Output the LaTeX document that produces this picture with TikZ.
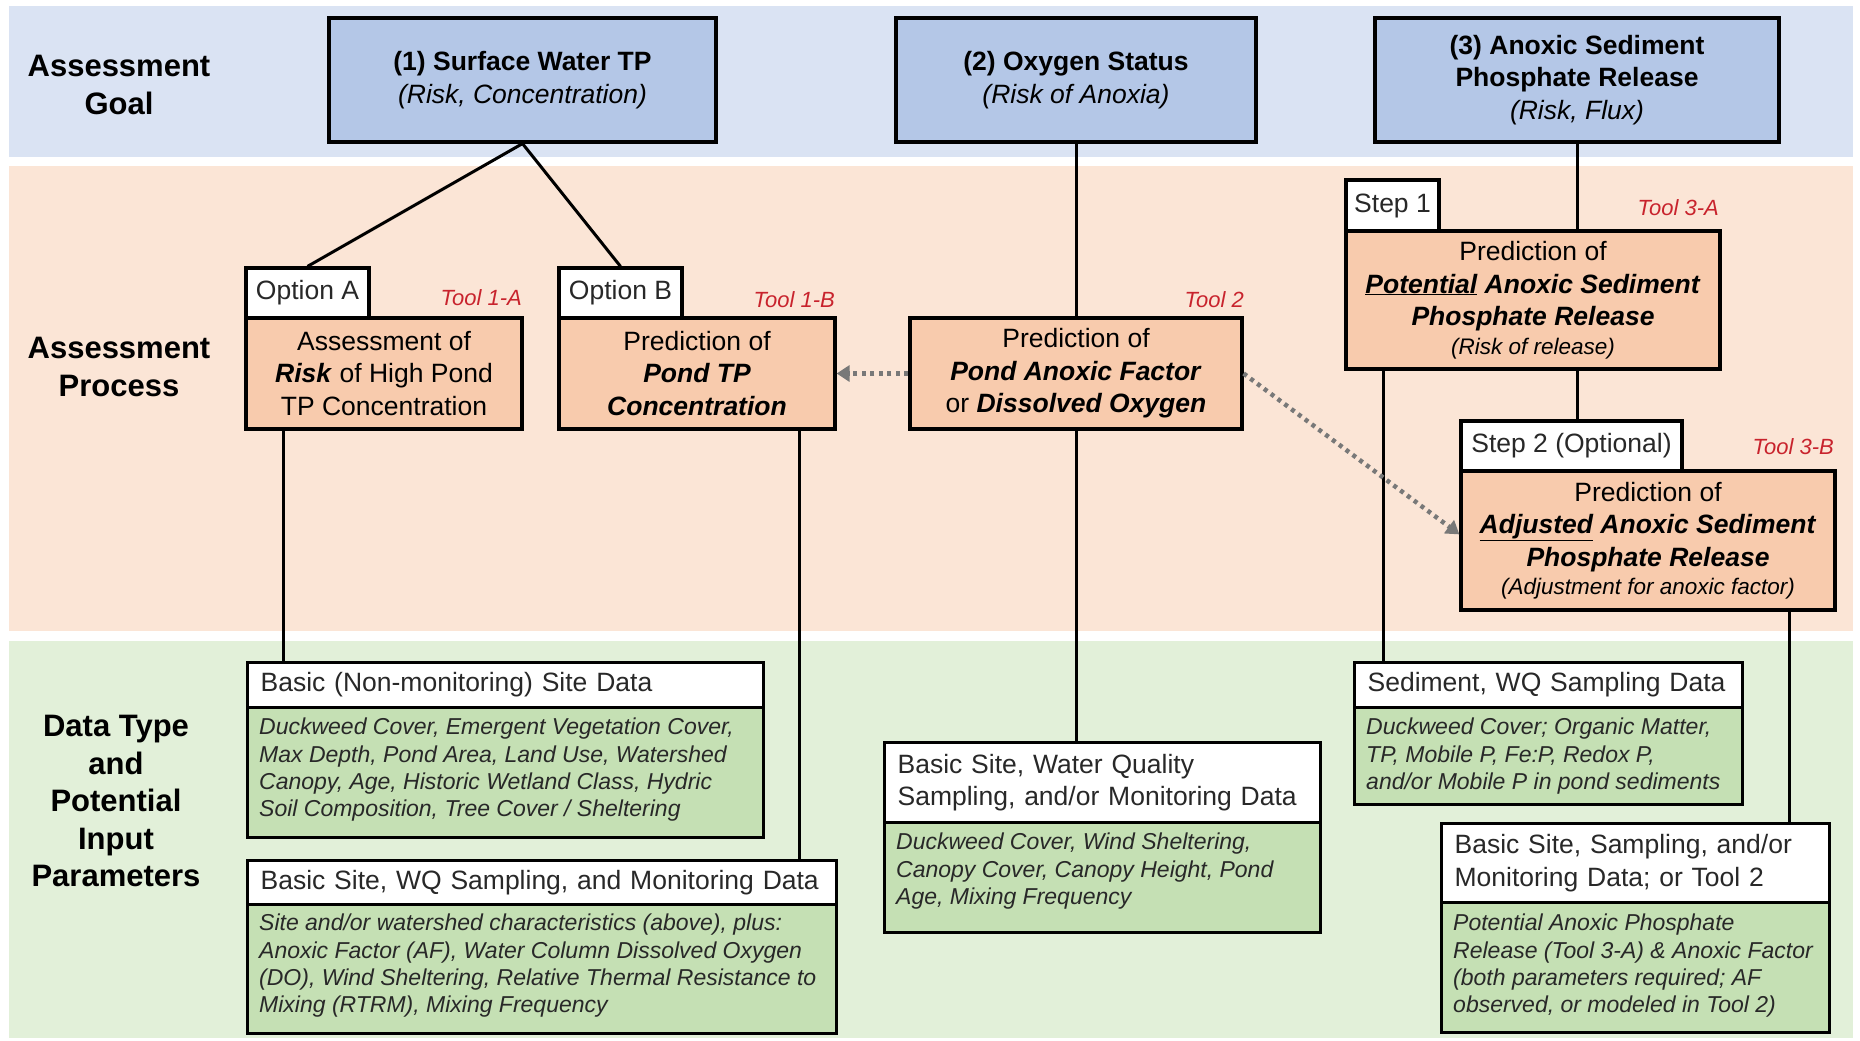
\documentclass[tikz,border=0pt]{standalone}
\usepackage{fontspec}
\setmainfont{Liberation Sans}
\usetikzlibrary{arrows.meta,calc}
\definecolor{bandblue}{RGB}{218,227,243}
\definecolor{bandorange}{RGB}{251,229,214}
\definecolor{bandgreen}{RGB}{226,240,217}
\definecolor{goalblue}{RGB}{180,199,231}
\definecolor{procor}{RGB}{248,203,173}
\definecolor{bodygreen}{RGB}{197,224,180}
\definecolor{toolred}{RGB}{200,35,45}
\definecolor{arrowgray}{RGB}{120,120,120}
\definecolor{txtgray}{RGB}{40,40,40}
\newcommand\fsmain{\fontsize{26.5}{32.5}\selectfont}
\newcommand\fsbody{\fontsize{23}{27.3}\selectfont}
\newcommand\fstool{\fontsize{22}{26}\selectfont}
\newcommand\fsside{\fontsize{31}{37.5}\selectfont}
\newcommand\fssmall{\fontsize{22.5}{27}\selectfont}
\begin{document}
\begin{tikzpicture}[x=1pt,y=-1pt,
  goal/.style={draw, line width=3.2pt, fill=goalblue, align=center, font=\fsmain, inner sep=0pt},
  proc/.style={draw, line width=3.2pt, fill=procor, align=center, font=\fsmain, inner sep=0pt},
  tabbox/.style={draw, line width=3.2pt, fill=white, font=\fsmain, inner sep=0pt, text=txtgray},
  hdr/.style={draw, line width=3.2pt, fill=white, font=\fsmain, align=left, anchor=north west, inner xsep=13pt, inner ysep=0pt, text=txtgray},
  bodybox/.style={draw, line width=3.2pt, fill=bodygreen, anchor=north west, inner sep=0pt},
  bodytxt/.style={font=\fsbody\itshape, align=left, anchor=north west, inner sep=0pt, text=txtgray},
  tool/.style={font=\fstool\itshape, text=toolred, anchor=east, inner sep=0pt},
  side/.style={font=\fsside\bfseries, align=center, inner sep=0pt},
  conn/.style={line width=3pt},
  dotarrow/.style={draw=arrowgray, line width=4.5pt, dash pattern=on 4pt off 4.5pt, -{Triangle[length=13pt,width=16pt]}}
]
\useasboundingbox (0,0) rectangle (1860,1041);
\fill[white] (0,0) rectangle (1860,1041);
% bands
\fill[bandblue] (9,6) rectangle (1853,157);
\fill[bandorange] (9,166) rectangle (1853,631);
\fill[bandgreen] (9,641) rectangle (1853,1038);

% side labels
\node[side] (lgoal) at (119,85) {Assessment\\Goal};
\node[side] (lproc) at (119,367) {Assessment\\Process};
\node[side] (ldata) at (116,801) {Data Type\\and\\Potential\\Input\\Parameters};

% goal boxes
\node[goal, minimum width=387pt, minimum height=124pt] (g1) at (522.5,80) {\textbf{(1) Surface Water TP}\\\textit{(Risk, Concentration)}};
\node[goal, minimum width=360pt, minimum height=124pt] (g2) at (1076,80) {\textbf{(2) Oxygen Status}\\\textit{(Risk of Anoxia)}};
\node[goal, minimum width=404pt, minimum height=124pt] (g3) at (1577,80) {\textbf{(3) Anoxic Sediment}\\\textbf{Phosphate Release}\\\textit{(Risk, Flux)}};

% process boxes
\node[proc, minimum width=276pt, minimum height=111pt] (bA) at (384,373.5) {Assessment of\\\textbf{\textit{Risk}} of High Pond\\TP Concentration};
\node[tabbox, minimum width=123pt, minimum height=50pt] (tA) at (307.5,293) {Option A};
\node[tool] (toolA) at (522,298) {Tool 1-A};

\node[proc, minimum width=276pt, minimum height=111pt] (bB) at (697,373.5) {Prediction of\\\textbf{\textit{Pond TP}}\\\textbf{\textit{Concentration}}};
\node[tabbox, minimum width=123pt, minimum height=50pt] (tB) at (620.5,293) {Option B};
\node[tool] (toolB) at (835,300) {Tool 1-B};

\node[proc, minimum width=332pt, minimum height=111pt] (t2) at (1076,373.5) {Prediction of\\\textbf{\textit{Pond Anoxic Factor}}\\or \textbf{\textit{Dissolved Oxygen}}};
\node[tool] (toolC) at (1244,300) {Tool 2};

\node[proc, minimum width=374pt, minimum height=138pt] (b3a) at (1533,300) {Prediction of\\\textbf{\textit{\underline{Potential} Anoxic Sediment}}\\\textbf{\textit{Phosphate Release}}\\[-4pt]{\fssmall\textit{(Risk of release)}}};
\node[tabbox, minimum width=93pt, minimum height=51pt] (s1) at (1392.5,205.5) {Step 1};
\node[tool] (toolD) at (1719,208) {Tool 3-A};

\node[proc, minimum width=374pt, minimum height=139pt] (b3b) at (1648,540.5) {Prediction of\\\textbf{\textit{\underline{Adjusted} Anoxic Sediment}}\\\textbf{\textit{Phosphate Release}}\\[-4pt]{\fssmall\textit{(Adjustment for anoxic factor)}}};
\node[tabbox, minimum width=221pt, minimum height=50pt] (s2) at (1571.5,446) {Step 2 (Optional)};
\node[tool] (toolE) at (1834,447) {Tool 3-B};

% data boxes
\node[bodybox, minimum width=516pt, minimum height=130pt] (d1b) at (246,706) {};
\node[hdr, text width=490pt, minimum height=45pt] (d1h) at (246,661) {Basic (Non-monitoring) Site Data};
\node[bodytxt] (d1t) at ($(d1b.north west)+(13,12)$) {Duckweed Cover, Emergent Vegetation Cover,\\Max Depth, Pond Area, Land Use, Watershed\\Canopy, Age, Historic Wetland Class, Hydric\\Soil Composition, Tree Cover / Sheltering};

\node[bodybox, minimum width=589pt, minimum height=129pt] (d2b) at (246,903) {};
\node[hdr, text width=563pt, minimum height=44pt] (d2h) at (246,859) {Basic Site, WQ Sampling, and Monitoring Data};
\node[bodytxt] (d2t) at ($(d2b.north west)+(13,11)$) {Site and/or watershed characteristics (above), plus:\\Anoxic Factor (AF), Water Column Dissolved Oxygen\\(DO), Wind Sheltering, Relative Thermal Resistance to\\Mixing (RTRM), Mixing Frequency};

\node[bodybox, minimum width=436pt, minimum height=110pt] (d3b) at (883,821) {};
\node[hdr, text width=410pt, minimum height=80pt] (d3h) at (883,741) {Basic Site, Water Quality\\Sampling, and/or Monitoring Data};
\node[bodytxt] (d3t) at ($(d3b.north west)+(13,12)$) {Duckweed Cover, Wind Sheltering,\\Canopy Cover, Canopy Height, Pond\\Age, Mixing Frequency};

\node[bodybox, minimum width=388pt, minimum height=97pt] (d4b) at (1353,706) {};
\node[hdr, text width=362pt, minimum height=45pt] (d4h) at (1353,661) {Sediment, WQ Sampling Data};
\node[bodytxt] (d4t) at ($(d4b.north west)+(13,12)$) {Duckweed Cover; Organic Matter,\\TP, Mobile P, Fe:P, Redox P,\\and/or Mobile P in pond sediments};

\node[bodybox, minimum width=388pt, minimum height=130pt] (d5b) at (1440,901) {};
\node[hdr, text width=362pt, minimum height=79pt] (d5h) at (1440,822) {Basic Site, Sampling, and/or\\Monitoring Data; or Tool 2};
\node[bodytxt] (d5t) at ($(d5b.north west)+(13,13)$) {Potential Anoxic Phosphate\\Release (Tool 3-A) \& Anoxic Factor\\(both parameters required; AF\\observed, or modeled in Tool 2)};

% connectors
\draw[conn] (g1.south) -- (tA.north);
\draw[conn] (g1.south) -- (tB.north);
\draw[conn] (g2.south) -- (t2.north);
\draw[conn] (g3.south) -- (g3.south |- b3a.north);
\draw[conn] (g3.south |- b3a.south) -- (g3.south |- s2.north);
\draw[conn] ([xshift=39pt]bA.south west) -- ([xshift=39pt]bA.south west |- d1h.north);
\draw[conn] ([xshift=-37pt]bB.south east) -- ([xshift=-37pt]bB.south east |- d2h.north);
\draw[conn] (t2.south) -- (t2.south |- d3h.north);
\draw[conn] ([xshift=39pt]b3a.south west) -- ([xshift=39pt]b3a.south west |- d4h.north);
\draw[conn] ([xshift=-47pt]b3b.south east) -- ([xshift=-47pt]b3b.south east |- d5h.north);

% dotted arrows
\coordinate (a2e) at ($(b3b.north west)+(0,65)$);
\draw[dotarrow] (t2.west) -- (bB.east);
\draw[dotarrow] (t2.east) -- (a2e);
\end{tikzpicture}
\end{document}
